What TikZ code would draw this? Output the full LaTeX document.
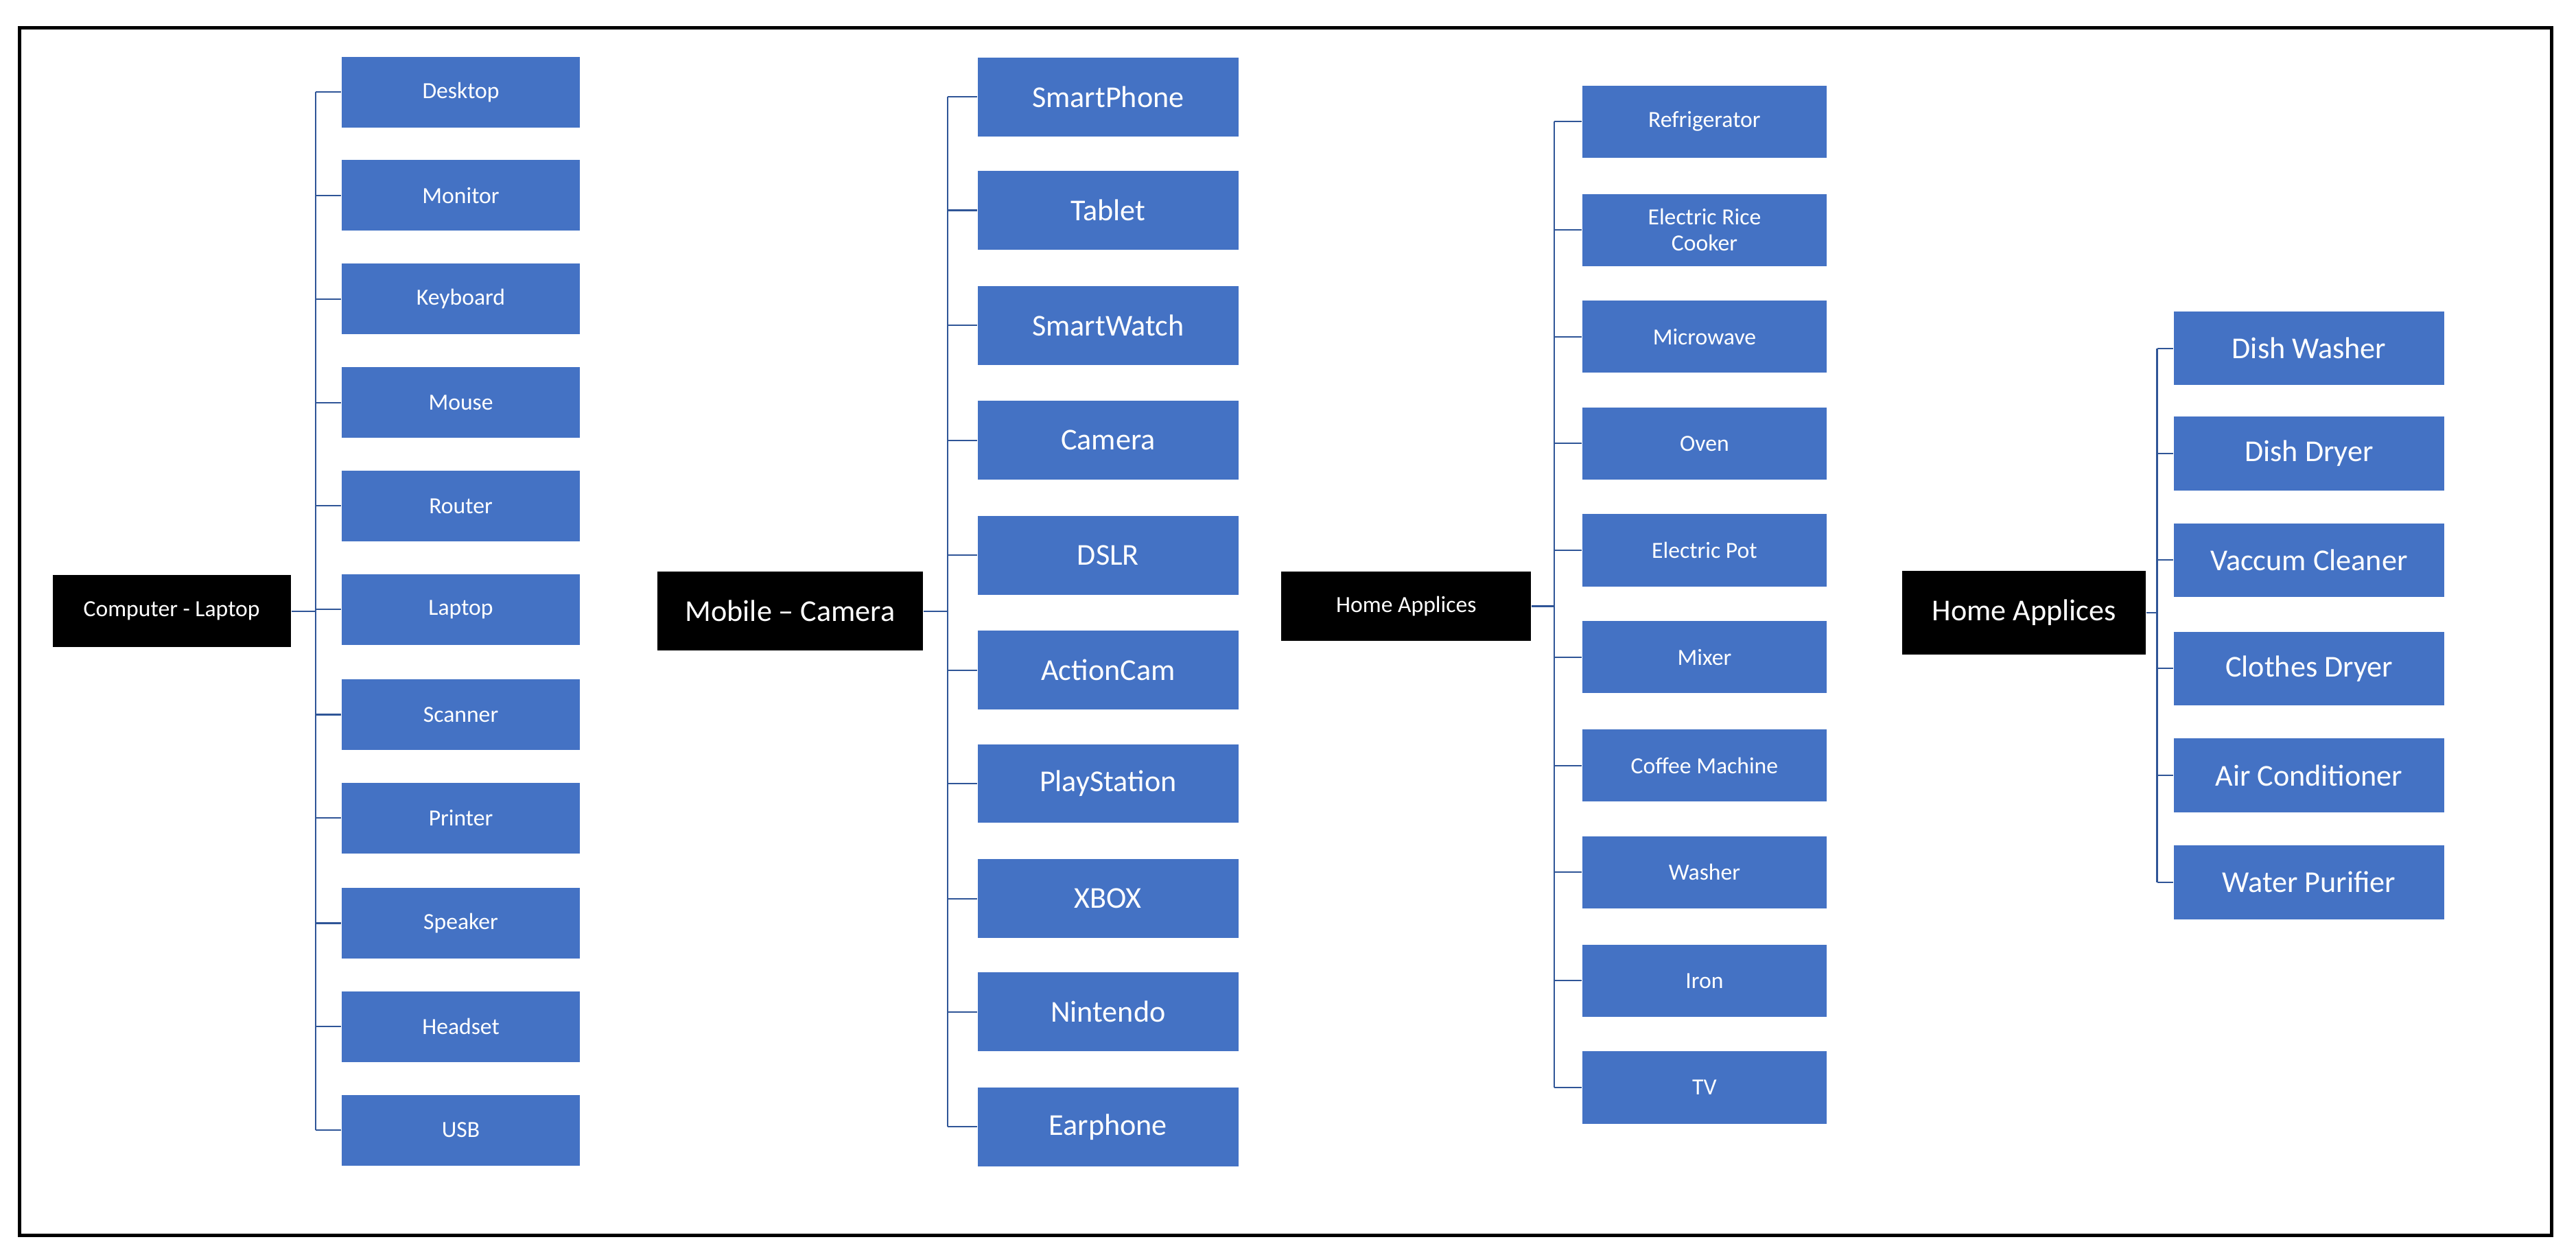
\documentclass[tikz,border=0pt]{standalone}
\usepackage{fontspec}
\setmainfont{Carlito}
\usetikzlibrary{positioning,calc}
\definecolor{itemblue}{RGB}{68,114,196}
\definecolor{lineblue}{RGB}{47,85,151}
\tikzset{
  item/.style={fill=itemblue, text=white, minimum height=#1, inner sep=1pt, align=center, font=\fontsize{8}{9}\selectfont},
  root/.style={fill=black, text=white, inner sep=2pt, font=\fontsize{8}{9}\selectfont},
  conn/.style={draw=lineblue, line width=0.5pt}
}
\begin{document}
\begin{tikzpicture}[x=0.02cm,y=-0.02cm]
    % Frame
    \useasboundingbox (0,0) rectangle (1568,765);
    \draw[line width=1.2pt] (12,17) rectangle (1553,752);

    % Computer - Laptop
    \node[root, minimum width=2.9cm, minimum height=0.88cm] (r1) at (104.5,372) {Computer - Laptop};
    \coordinate (t1) at (192,372);
    \foreach \i/\y/\label in {1/56/Desktop, 2/119/Monitor, 3/182/Keyboard, 4/245/Mouse, 5/308/Router, 6/371/Laptop, 7/435/Scanner, 8/498/Printer, 9/562/Speaker, 10/625/Headset, 11/688/USB} {
        \node[item=0.86cm, minimum width=2.9cm] (a\i) at (280.5,\y) {\label};
        \draw[conn] (a\i.west) -- (a\i.west -| t1);
    }
    \draw[conn] (a1.west -| t1) -- (a11.west -| t1);
    \draw[conn] (r1.east) -- (t1);

    % Mobile - Camera
    \node[root, minimum width=3.24cm, minimum height=0.96cm, font=\fontsize{10.5}{12}\selectfont] (r2) at (481,372) {Mobile – Camera};
    \coordinate (t2) at (577,372);
    \foreach \i/\y/\label in {1/59/SmartPhone, 2/128/Tablet, 3/198/SmartWatch, 4/268/Camera, 5/338/DSLR, 6/408/ActionCam, 7/477/PlayStation, 8/547/XBOX, 9/616/Nintendo, 10/686/Earphone} {
        \node[item=0.96cm, minimum width=3.18cm, font=\fontsize{10.5}{12}\selectfont] (b\i) at (674.5,\y) {\label};
        \draw[conn] (b\i.west) -- (b\i.west -| t2);
    }
    \draw[conn] (b1.west -| t2) -- (b10.west -| t2);
    \draw[conn] (r2.east) -- (t2);

    % Home Applices
    \node[root, minimum width=3.04cm, minimum height=0.84cm] (r3) at (856,369) {Home Applices};
    \coordinate (t3) at (946,369);
    \foreach \i/\y/\label in {1/74/Refrigerator, 2/140/{Electric Rice\\Cooker}, 3/205/Microwave, 4/270/Oven, 5/335/Electric Pot, 6/400/Mixer, 7/466/Coffee Machine, 8/531/Washer, 9/597/Iron, 10/662/TV} {
        \node[item=0.88cm, minimum width=2.98cm] (c\i) at (1037.5,\y) {\label};
        \draw[conn] (c\i.west) -- (c\i.west -| t3);
    }
    \draw[conn] (c1.west -| t3) -- (c10.west -| t3);
    \draw[conn] (r3.east) -- (t3);

    % Home Applices (2)
    \node[root, minimum width=2.96cm, minimum height=1.02cm, font=\fontsize{10.5}{12}\selectfont] (r4) at (1232,373) {Home Applices};
    \coordinate (t4) at (1313,373);
    \foreach \i/\y/\label in {1/212/Dish Washer, 2/276/Dish Dryer, 3/341/Vaccum Cleaner, 4/407/Clothes Dryer, 5/472/Air Conditioner, 6/537/Water Purifier} {
        \node[item=0.9cm, minimum width=3.3cm, font=\fontsize{10.5}{12}\selectfont] (d\i) at (1405.5,\y) {\label};
        \draw[conn] (d\i.west) -- (d\i.west -| t4);
    }
    \draw[conn] (d1.west -| t4) -- (d6.west -| t4);
    \draw[conn] (r4.east) -- (t4);
\end{tikzpicture}
\end{document}
